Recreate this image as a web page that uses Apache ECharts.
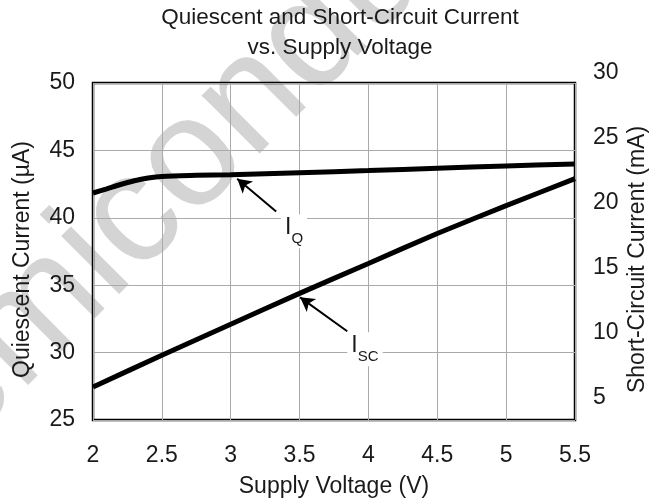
<!DOCTYPE html>
<html>
<head>
<meta charset="utf-8">
<script src="https://cdn.jsdelivr.net/npm/echarts@6/dist/echarts.min.js"></script>
<style>html,body{margin:0;padding:0;background:#fff;}#c{width:665px;height:503px;}</style>
</head>
<body>
<div id="c"></div>
<script>
// ---- data ----
const xTicks = [2, 2.5, 3, 3.5, 4, 4.5, 5, 5.5];
const iqVoltage = [2, 2.1, 2.2, 2.3, 2.4, 2.5, 2.75, 3, 3.5, 4, 4.5, 5, 5.5];
const iqCurrent = [41.84, 42.15, 42.47, 42.75, 42.95, 43.07, 43.15, 43.2, 43.35, 43.5, 43.68, 43.85, 44.0]; // µA
const iscVoltage = [2, 2.5, 3, 3.5, 4, 4.5, 5, 5.5];
const iscCurrent = [5.77, 8.23, 10.62, 13.0, 15.31, 17.62, 19.77, 21.85]; // mA
const leftTicks = [25, 30, 35, 40, 45, 50];
const rightTicks = [5, 10, 15, 20, 25, 30];
// annotation anchors (in V / µA data units)
const iqLabelAt = [3.46, 39.0];
const iqArrow = [[3.33, 40.46], [3.047, 42.9]];
const iscLabelAt = [3.975, 30.25];
const iscArrow = [[3.846, 31.58], [3.504, 34.1]];

const FONT = 'Liberation Sans, Arial, sans-serif';
const TXT = '#1a1a1a';

const chart = echarts.init(document.getElementById('c'), null, {renderer: 'canvas'});

function zip(a, b) { return a.map((v, i) => [v, b[i]]); }

const labelRich = {
  i: {fontSize: 23, fontFamily: FONT, color: TXT, lineHeight: 30, verticalAlign: 'top'},
  s: {fontSize: 15, fontFamily: FONT, color: TXT, lineHeight: 30, verticalAlign: 'bottom', padding: [12, 0, 0, 0]}
};

const option = {
  backgroundColor: '#fff',
  animation: false,
  title: {
    text: 'Quiescent and Short-Circuit Current\nvs. Supply Voltage',
    left: 340, top: 3, textAlign: 'center', padding: 0,
    textStyle: {fontFamily: FONT, fontSize: 22.5, fontWeight: 'normal', color: TXT, lineHeight: 30}
  },
  graphic: [{
    type: 'text', x: -89, y: 551, rotation: 0.785, z: -10, silent: true,
    style: {text: 'Semiconductor', fontSize: 155, fontFamily: FONT, fill: '#d4d4d4', textAlign: 'left', textVerticalAlign: 'bottom'}
  }],
  grid: [
    {left: 93, right: 90, top: 83, bottom: 82, show: true, borderColor: '#000', borderWidth: 2.5, backgroundColor: 'transparent'},
    {left: 93, right: 90, top: 73, bottom: 105, show: false}
  ],
  xAxis: [
    {
      type: 'value', gridIndex: 0, min: xTicks[0], max: xTicks[xTicks.length - 1], interval: 0.5,
      name: 'Supply Voltage (V)', nameLocation: 'middle', nameGap: 55,
      nameTextStyle: {fontFamily: FONT, fontSize: 23, color: TXT},
      axisLine: {show: false}, axisTick: {show: false},
      axisLabel: {fontFamily: FONT, fontSize: 23, color: TXT, margin: 24},
      splitLine: {show: true, lineStyle: {color: '#aaaaaa', width: 1}}
    },
    {type: 'value', gridIndex: 1, min: 2, max: 5.5, show: false}
  ],
  yAxis: [
    {
      type: 'value', gridIndex: 0, position: 'left', min: leftTicks[0], max: leftTicks[leftTicks.length - 1], interval: 5,
      name: 'Quiescent Current (µA)', nameLocation: 'middle', nameGap: 59,
      nameTextStyle: {fontFamily: FONT, fontSize: 23, color: TXT, padding: [0, 16, 0, 0]},
      axisLine: {show: false}, axisTick: {show: false},
      axisLabel: {fontFamily: FONT, fontSize: 23, color: TXT, margin: 18},
      splitLine: {show: true, lineStyle: {color: '#aaaaaa', width: 1}}
    },
    {
      type: 'value', gridIndex: 0, position: 'right', min: 3.23, max: 29.23,
      name: 'Short-Circuit Current (mA)', nameLocation: 'middle', nameGap: 51,
      nameTextStyle: {fontFamily: FONT, fontSize: 23, color: TXT, padding: [0, 16, 0, 0]},
      axisLine: {show: false}, axisTick: {show: false}, axisLabel: {show: false}, splitLine: {show: false}
    },
    {
      type: 'value', gridIndex: 1, position: 'right', min: rightTicks[0], max: rightTicks[rightTicks.length - 1], interval: 5,
      axisLine: {show: false}, axisTick: {show: false}, splitLine: {show: false},
      axisLabel: {fontFamily: FONT, fontSize: 23, color: TXT, margin: 18}
    }
  ],
  series: [
    {
      name: 'IQ', type: 'line', xAxisIndex: 0, yAxisIndex: 0, smooth: 0.3, showSymbol: false,
      data: zip(iqVoltage, iqCurrent),
      lineStyle: {color: '#000', width: 5}, itemStyle: {color: '#000'},
      markLine: {
        silent: true, symbol: ['none', 'arrow'], symbolSize: [12, 14], label: {show: false},
        lineStyle: {color: '#000', width: 2, type: 'solid'},
        data: [
          [{coord: iqArrow[0]}, {coord: iqArrow[1]}],
          [{coord: iscArrow[0]}, {coord: iscArrow[1]}]
        ]
      },
      markPoint: {
        silent: true, symbol: 'rect', symbolSize: 1, itemStyle: {color: 'rgba(0,0,0,0)'},
        label: {show: true, position: 'inside', backgroundColor: '#fff', padding: [2, 4, 2, 4], rich: labelRich},
        data: [
          {coord: iqLabelAt, label: {formatter: '{i|I}{s|Q}'}},
          {coord: iscLabelAt, label: {formatter: '{i|I}{s|SC}'}}
        ]
      }
    },
    {
      name: 'ISC', type: 'line', xAxisIndex: 0, yAxisIndex: 1, smooth: 0.2, showSymbol: false,
      data: zip(iscVoltage, iscCurrent),
      lineStyle: {color: '#000', width: 5}, itemStyle: {color: '#000'}
    }
  ]
};
chart.setOption(option);
</script>
</body>
</html>
